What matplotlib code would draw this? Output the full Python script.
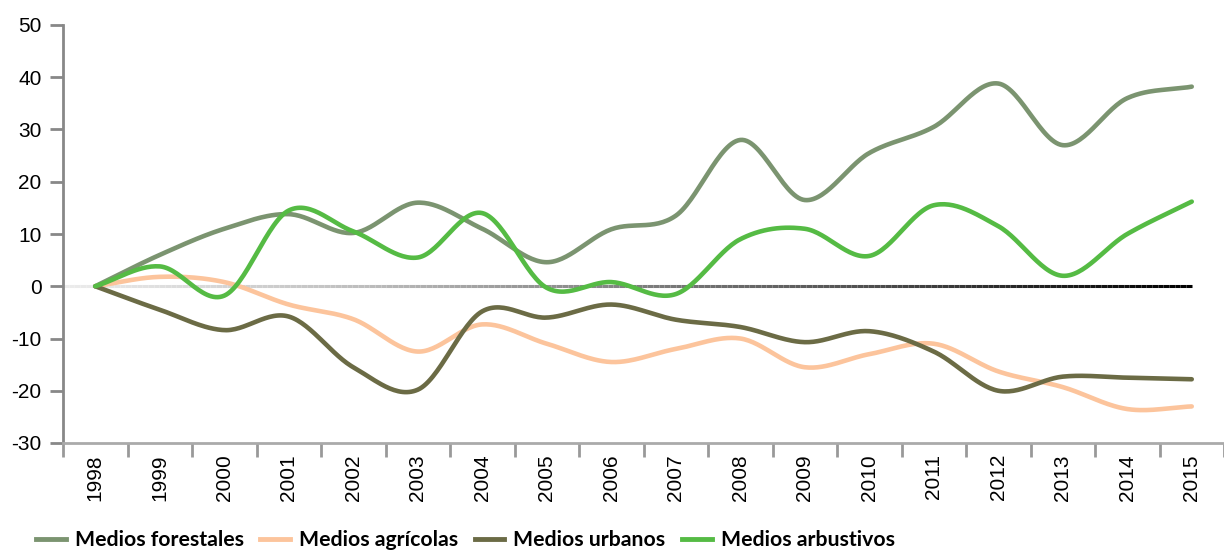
import numpy as np
import matplotlib
matplotlib.use("Agg")
import matplotlib.pyplot as plt
import matplotlib.transforms as mtransforms
from matplotlib.collections import LineCollection
from matplotlib.lines import Line2D

plt.rcParams["axes.unicode_minus"] = False

years = [str(y) for y in range(1998, 2016)]

forestales = [0, 6, 11, 13.8, 10.2, 16, 11, 4.6, 10.9, 13.5, 28, 16.5, 25.5, 30.5, 38.8, 27, 36, 38.2]
agricolas = [0, 1.8, 0.8, -3.5, -6.3, -12.5, -7.3, -11, -14.5, -12, -10, -15.5, -13, -11, -16.3, -19.3, -23.5, -23]
urbanos = [0, -4.5, -8.4, -5.8, -15.5, -19.8, -4.8, -6, -3.5, -6.4, -7.8, -10.7, -8.6, -12.5, -20, -17.3, -17.5, -17.8]
arbustivos = [0, 3.8, -1.8, 14.5, 10.5, 5.5, 14, -0.3, 0.8, -1.5, 9, 11, 5.8, 15.5, 11.5, 2, 10, 16.2]

series = [
    ("Medios forestales", forestales, "#7b9470"),
    ("Medios agrícolas", agricolas, "#fcc49c"),
    ("Medios urbanos", urbanos, "#6b6b45"),
    ("Medios arbustivos", arbustivos, "#55bb44"),
]


def smooth(y, n=30):
    """Catmull-Rom curve through the points, only for drawing."""
    y = np.asarray(y, dtype=float)
    x = np.arange(len(y), dtype=float)
    px = np.concatenate([[2 * x[0] - x[1]], x, [2 * x[-1] - x[-2]]])
    py = np.concatenate([[2 * y[0] - y[1]], y, [2 * y[-1] - y[-2]]])
    xs, ys = [], []
    t = np.linspace(0, 1, n, endpoint=False)
    for i in range(1, len(px) - 2):
        for p, out in ((px, xs), (py, ys)):
            p0, p1, p2, p3 = p[i - 1], p[i], p[i + 1], p[i + 2]
            out.append(0.5 * (2 * p1 + (-p0 + p2) * t
                              + (2 * p0 - 5 * p1 + 4 * p2 - p3) * t ** 2
                              + (-p0 + 3 * p1 - 3 * p2 + p3) * t ** 3))
    xs.append([x[-1]])
    ys.append([y[-1]])
    return np.concatenate(xs), np.concatenate(ys)


fig = plt.figure(figsize=(12.24, 5.51), dpi=100)
ax = fig.add_axes([63 / 1224, 1 - 443 / 551, 1 - 63 / 1224, (443 - 25) / 551])

# zero line with grey-to-black gradient
zx = np.linspace(-0.5, len(years) - 1, 200)
pts = np.column_stack([zx, np.zeros_like(zx)]).reshape(-1, 1, 2)
segs = np.concatenate([pts[:-1], pts[1:]], axis=1)
cols = plt.cm.Greys(np.linspace(0.15, 1.0, len(segs)))
ax.add_collection(LineCollection(segs, colors=cols, linewidths=2.2, zorder=1))

for name, vals, color in series:
    sx, sy = smooth(vals)
    ax.plot(sx, sy, color=color, lw=3.3, solid_capstyle="round", zorder=3)

ax.set_ylim(-30, 50)
ax.set_yticks(range(-30, 51, 10))
ax.set_xlim(-0.5, (1224 - 63) / 65.06 - 0.5)
ax.set_xticks(range(len(years)))
ax.set_xticklabels(years, rotation=90, fontfamily="Liberation Sans", fontsize=15)
ax.set_xticks(np.arange(-0.5, len(years), 1), minor=True)
shift = mtransforms.ScaledTranslation(-7 / 100, 0, fig.dpi_scale_trans)
for lab in ax.get_xticklabels():
    lab.set_transform(lab.get_transform() + shift)
for lab in ax.get_yticklabels():
    lab.set_fontfamily("Liberation Sans")
    lab.set_fontsize(15)

for s in ("top", "right"):
    ax.spines[s].set_visible(False)
ax.spines["left"].set_color("#888888")
ax.spines["left"].set_linewidth(2)
ax.spines["bottom"].set_color("#aaaaaa")
ax.spines["bottom"].set_linewidth(2)
ax.tick_params(axis="y", length=9.5, width=2, color="#888888", pad=6)
ax.tick_params(axis="x", which="major", length=0, pad=8)
ax.tick_params(axis="x", which="minor", length=10, width=2, color="#999999")

handles = [Line2D([], [], color=c, lw=3.5) for _, _, c in series]
fig.legend(handles, [n for n, _, _ in series], loc="center left",
           bbox_to_anchor=(36 / 1224, 11 / 551), ncol=4, frameon=False,
           prop={"family": "Lato", "weight": "bold", "size": 15.3},
           handlelength=1.4, handletextpad=0.42, columnspacing=0.78,
           borderaxespad=0, borderpad=0)

fig.savefig("out.png", dpi=100)
